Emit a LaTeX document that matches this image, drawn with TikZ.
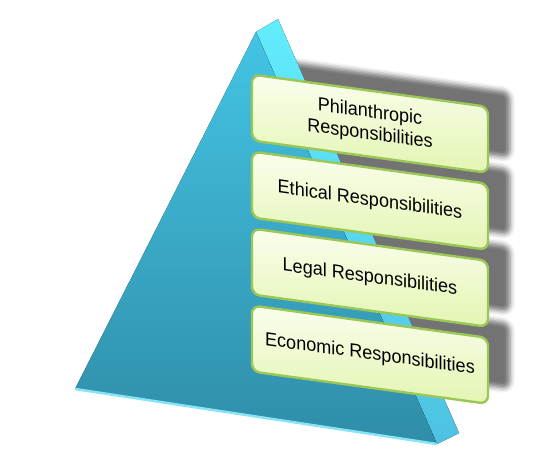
\documentclass[tikz,border=0pt]{standalone}
\usepackage{fontspec}
\setmainfont{Liberation Sans}
\newfontfamily\respfont[FakeStretch=0.95]{Liberation Sans}
\usetikzlibrary{positioning,shadows.blur}

\definecolor{fronttop}{HTML}{44C4E4}
\definecolor{frontbot}{HTML}{2F8DA8}
\definecolor{sidetop}{HTML}{62ECFC}
\definecolor{sidebot}{HTML}{4EC2E2}
\definecolor{bevel}{HTML}{86E4F6}
\definecolor{respgreen}{HTML}{9CC655}
\definecolor{resptop}{HTML}{FAFEEE}
\definecolor{respbot}{HTML}{E3F5B2}

\tikzset{
  resp/.style={rectangle, rounded corners=8pt, draw=respgreen, line width=2.4pt,
    top color=resptop, bottom color=respbot, minimum width=236pt,
    minimum height=66pt, inner sep=0pt, align=center, transform shape,
    font=\respfont\fontsize{19}{22}\selectfont},
  respshadow/.style={rectangle, rounded corners=8pt, minimum width=236pt,
    minimum height=66pt, inner sep=0pt, transform shape,
    blur shadow={shadow xshift=0pt, shadow yshift=0pt, shadow blur radius=5pt,
      shadow opacity=55}}
}

\begin{document}
\begin{tikzpicture}[x=1pt,y=-1pt]
    \useasboundingbox (0,0) rectangle (559,461);
    % shadows sit behind the pyramid
    \begin{scope}[yslant=-0.137]
    \node[respshadow] (sphil) at (392,55) {};
    \node[respshadow] (seth) at (392,132) {};
    \node[respshadow] (slegal) at (392,209) {};
    \node[respshadow] (secon) at (392,286) {};
    \end{scope}
    % pyramid
    \coordinate (apex) at (256,32);
    \coordinate (apexback) at (278,19);
    \coordinate (bl) at (75,389);
    \coordinate (br) at (437,444);
    \coordinate (brback) at (459,433);
    \fill[top color=sidetop, bottom color=sidebot] (apex) -- (apexback) -- (brback) -- (br) -- cycle;
    \fill[top color=fronttop, bottom color=frontbot] (apex) -- (bl) -- (br) -- cycle;
    \draw[bevel, line width=2.5pt] (bl) -- (br);
    % responsibility boxes
    \begin{scope}[yslant=-0.137]
    \node[resp] (phil) at (370,73) {Philanthropic\\Responsibilities};
    \node[resp] (eth) at (370,150) {Ethical Responsibilities};
    \node[resp] (legal) at (370,227) {Legal Responsibilities};
    \node[resp] (econ) at (370,304) {Economic Responsibilities};
    \end{scope}
\end{tikzpicture}
\end{document}
